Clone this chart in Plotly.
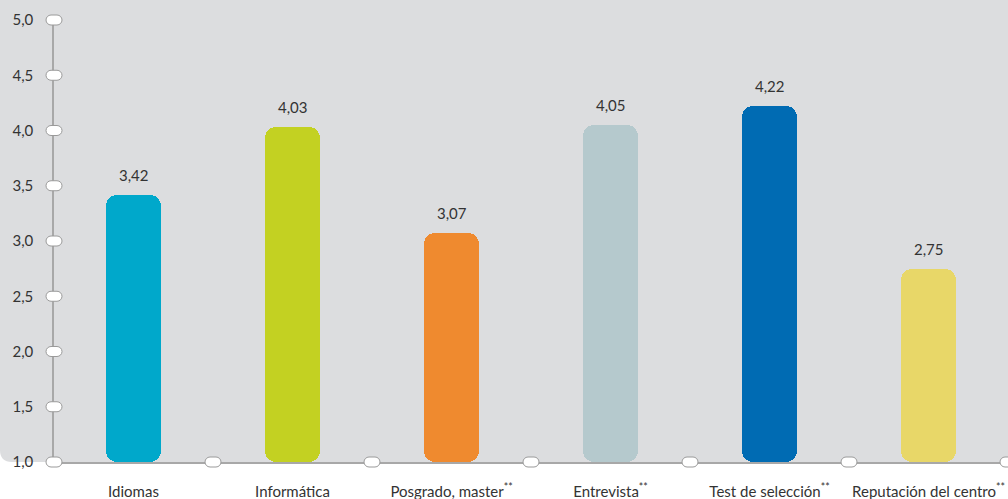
import plotly.graph_objects as go

categories = ["Idiomas", "Informática", "Posgrado, master", "Entrevista", "Test de selección", "Reputación del centro"]
footnote = ["", "", "**", "**", "**", "**"]
values = [3.42, 4.03, 3.07, 4.05, 4.22, 2.75]
colors = ["#00a8cb", "#c3d122", "#ef8a2f", "#b5c9cd", "#006bb3", "#e8d768"]
y_ticks = [1.0, 1.5, 2.0, 2.5, 3.0, 3.5, 4.0, 4.5, 5.0]
y_min, y_max = 1.0, 5.0

FONT = "Lato"
TXT = "#333333"
GRAY_BG = "#dcdddf"
AXIS_C = "#a8a8a8"

xs = list(range(len(categories)))
fig = go.Figure()

# upper part of each bar (rounded top)
up_base = [y_min + (v - y_min) * 0.4 for v in values]
fig.add_trace(go.Bar(
    x=xs, y=[v - b for v, b in zip(values, up_base)], base=up_base,
    width=0.34, marker=dict(color=colors, line=dict(width=0), cornerradius=11),
    hoverinfo="skip", showlegend=False))
# lower part of each bar (rounded bottom)
lo_base = [y_min + (v - y_min) * 0.6 for v in values]
fig.add_trace(go.Bar(
    x=xs, y=[y_min - b for b in lo_base], base=lo_base,
    width=0.34, marker=dict(color=colors, line=dict(width=0), cornerradius=11),
    hoverinfo="skip", showlegend=False))

# value labels
for i, v in enumerate(values):
    fig.add_annotation(x=i, y=v, text=f"{v:.2f}".replace(".", ","), showarrow=False,
                       yanchor="bottom", yshift=9, font=dict(family=FONT, size=15, color=TXT))

shapes = []
# gray background with rounded bottom-left corner (pixel path anchored at plot bottom-left)
W, H, L, T, B = 1008, 499, 54, 20, 37
plot_h = H - T - B
R = 12
shapes.append(dict(
    type="path", layer="below", xref="paper", yref="paper",
    xsizemode="pixel", ysizemode="pixel", xanchor=0, yanchor=0,
    path=f"M {-L},{plot_h + T} L {W - L},{plot_h + T} L {W - L},0 L {-L + R},0 Q {-L},0 {-L},{R} Z",
    fillcolor=GRAY_BG, line=dict(width=0)))


def pill(xref, xa, yref, ya):
    a, r, k = 3.0, 5.0, 0.5523 * 5.0
    p = (f"M {-a},{-r} L {a},{-r} C {a + k},{-r} {a + r},{-k} {a + r},0 "
         f"C {a + r},{k} {a + k},{r} {a},{r} L {-a},{r} "
         f"C {-a - k},{r} {-a - r},{k} {-a - r},0 C {-a - r},{-k} {-a - k},{-r} {-a},{-r} Z")
    return dict(type="path", layer="above", xref=xref, yref=yref,
                xsizemode="pixel", ysizemode="pixel", xanchor=xa, yanchor=ya,
                path=p, fillcolor="white", line=dict(color="#9a9a9a", width=1))


for t in y_ticks:
    shapes.append(pill("x domain", 0, "y domain", (t - y_min) / (y_max - y_min)))
n = len(categories)
for k in range(1, n + 1):
    shapes.append(pill("x domain", k / n, "y domain", 0))

ticktext = [c + (f"<sup>{f}</sup>" if f else "") for c, f in zip(categories, footnote)]

fig.update_layout(
    width=W, height=H,
    margin=dict(l=L, r=0, t=T, b=B),
    paper_bgcolor="white", plot_bgcolor="rgba(0,0,0,0)",
    barmode="overlay", bargap=0,
    separators=",.",
    shapes=shapes,
    font=dict(family=FONT, color=TXT),
    xaxis=dict(range=[-0.5, n - 0.5], tickvals=xs, ticktext=ticktext, automargin=False,
               showline=True, linecolor=AXIS_C, linewidth=2, showgrid=False, zeroline=False,
               ticks="outside", ticklen=15, tickcolor="rgba(0,0,0,0)",
               tickfont=dict(family=FONT, size=15, color=TXT), fixedrange=True),
    yaxis=dict(range=[y_min, y_max], tickvals=y_ticks, tickformat=".1f", automargin=False,
               showline=True, linecolor=AXIS_C, linewidth=1.5, showgrid=False, zeroline=False,
               ticks="outside", ticklen=16, tickcolor="rgba(0,0,0,0)",
               tickfont=dict(family=FONT, size=15, color=TXT), fixedrange=True),
)

fig.write_html("out.html", config={"displayModeBar": False},
               post_script="document.body.style.margin='0';document.body.style.overflow='hidden';")
